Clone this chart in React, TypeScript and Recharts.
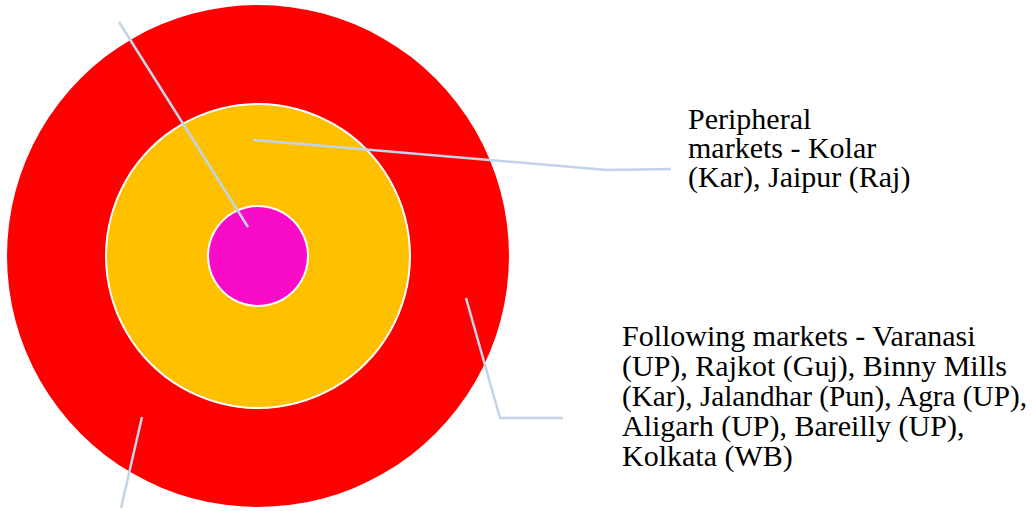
import { Pie, PieChart } from 'recharts';

// market tiers, from the centre outwards
const tiers = ['Core', 'Peripheral', 'Following'];
const tierValues = [1, 1, 1];
const tierColors = ['#F80CC8', '#FFC000', '#FF0000'];

const peripheralLines = ['Peripheral', 'markets - Kolar', '(Kar), Jaipur (Raj)'];
const followingLines = [
  'Following markets - Varanasi',
  '(UP), Rajkot (Guj), Binny Mills',
  '(Kar), Jalandhar (Pun), Agra (UP),',
  'Aligarh (UP), Bareilly (UP),',
  'Kolkata (WB)',
];

const CX = 258;
const CY = 256;
const LINE = '#C3D3EA';
const FONT = 'Liberation Serif';
const FONT_SIZE = 30;
// the longest line is a little tighter in the original, so fit it to the page
const FIT_WIDTH: Record<string, number> = { '(Kar), Jalandhar (Pun), Agra (UP),': 405 };

const tierData = tiers.map((name, i) => [{ name, value: tierValues[i] }]);

function TextBlock({ x, y, lines, step }: { x: number; y: number; lines: string[]; step: number }) {
  return (
    <text x={x} y={y} fontFamily={FONT} fontSize={FONT_SIZE} style={{ fontFamily: FONT }} fill="#000">
      {lines.map((t, i) => (
        <tspan
          key={i}
          x={x}
          dy={i === 0 ? 0 : step}
          textLength={FIT_WIDTH[t]}
          lengthAdjust={FIT_WIDTH[t] ? 'spacingAndGlyphs' : undefined}
        >
          {t}
        </tspan>
      ))}
    </text>
  );
}

// leader lines and the two text blocks, drawn as the label of the last pie so they sit on top
function Callouts() {
  const leaders: Array<Array<[number, number]>> = [
    [[248, 227], [119, 22]],
    [[253, 140], [607, 170], [671, 169]],
    [[466, 298], [500, 418], [563, 418]],
    [[142, 417], [121, 508]],
  ];
  return (
    <g>
      {leaders.map((pts, i) => (
        <polyline
          key={i}
          points={pts.map((p) => p.join(',')).join(' ')}
          fill="none"
          stroke={LINE}
          strokeWidth={2.5}
        />
      ))}
      <TextBlock x={688} y={129} lines={peripheralLines} step={29} />
      <TextBlock x={622} y={346} lines={followingLines} step={30} />
    </g>
  );
}

export default function App() {
  return (
    <div style={{ position: 'absolute', left: 0, top: 0, background: '#fff' }}>
      <PieChart width={1032} height={511} margin={{ top: 0, right: 0, bottom: 0, left: 0 }}>
        <Pie
          data={tierData[2]}
          dataKey="value"
          cx={CX}
          cy={CY}
          innerRadius={151}
          outerRadius={251}
          fill={tierColors[2]}
          stroke="none"
          isAnimationActive={false}
        />
        <Pie
          data={tierData[1]}
          dataKey="value"
          cx={CX}
          cy={CY}
          innerRadius={49}
          outerRadius={152}
          fill={tierColors[1]}
          stroke="none"
          isAnimationActive={false}
        />
        <Pie
          data={tierData[0]}
          dataKey="value"
          cx={CX}
          cy={CY}
          innerRadius={0}
          outerRadius={50}
          fill={tierColors[0]}
          stroke="none"
          isAnimationActive={false}
        />
        {/* white outlines round the inner two tiers */}
        <Pie
          data={tierData[1]}
          dataKey="value"
          cx={CX}
          cy={CY}
          innerRadius={151}
          outerRadius={153}
          fill="#fff"
          stroke="none"
          isAnimationActive={false}
        />
        <Pie
          data={tierData[0]}
          dataKey="value"
          cx={CX}
          cy={CY}
          innerRadius={49}
          outerRadius={51}
          fill="#fff"
          stroke="none"
          label={() => <Callouts />}
          labelLine={false}
          isAnimationActive={false}
        />
      </PieChart>
    </div>
  );
}
